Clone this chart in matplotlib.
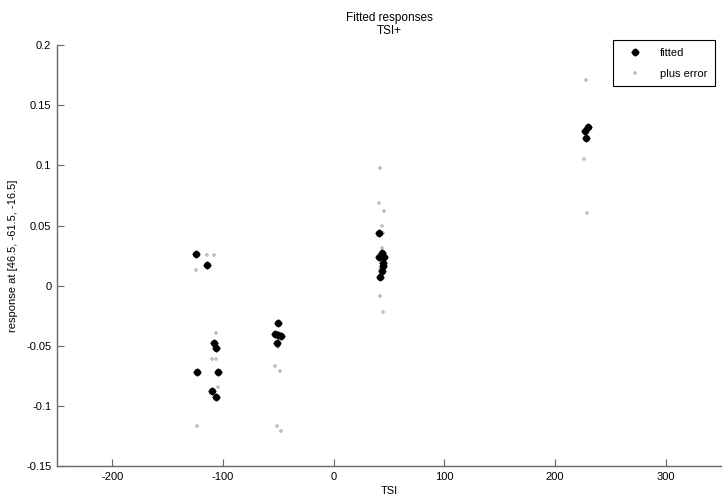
import matplotlib
matplotlib.use('Agg')
import matplotlib.pyplot as plt

plt.rcParams['font.family'] = ['Liberation Sans', 'DejaVu Sans']
plt.rcParams['font.size'] = 8
plt.rcParams['axes.unicode_minus'] = False

# fitted responses (black)
fitted_x = [-124.3, -114.4, -108.1, -106.3, -123.4, -104.5, -110.0, -106.3,
            -50.7, -53.4, -50.2, -47.7, -51.6,
            40.8, 44.1, 41.4, 45.3, 44.4, 44.8, 44.1, 41.7,
            229.5, 227.5, 228.5]
fitted_y = [0.0265, 0.0175, -0.0475, -0.0515, -0.0715, -0.0715, -0.088, -0.093,
            -0.031, -0.040, -0.041, -0.042, -0.048,
            0.044, 0.027, 0.024, 0.024, 0.019, 0.016, 0.0125, 0.007,
            0.132, 0.129, 0.1225]

# fitted plus error (grey)
error_x = [-114.1, -108.1, -124.3, -106.6, -109.9, -106.3, -104.8, -123.4,
           -50.7, -53.4, -48.9, -51.6, -47.7,
           41.7, 40.8, 45.3, 43.8, 44.4, 43.8, 42.0, 41.7, 44.4,
           228.5, 226.0, 229.0]
error_y = [0.0258, 0.0258, 0.0131, -0.039, -0.061, -0.061, -0.084, -0.117,
           -0.051, -0.067, -0.071, -0.117, -0.121,
           0.098, 0.069, 0.062, 0.050, 0.044, 0.031, 0.014, -0.009, -0.022,
           0.171, 0.105, 0.060]

fig = plt.figure(figsize=(7.26, 4.96), dpi=100)
ax = fig.add_axes([0.0785, 0.0605, 0.9145, 0.8485])

dot = dict(linestyle='none', marker='o', markersize=4.2, color='black')
cross = dict(linestyle='none', marker='+', markersize=5.6,
             markeredgewidth=1.0, color='black')
grey = dict(linestyle='none', marker='+', markersize=3.2,
            markeredgewidth=1.3, color='#c2c2c2')

ax.plot(error_x, error_y, zorder=2, **grey)
ax.plot(fitted_x, fitted_y, zorder=3, **dot)
ax.plot(fitted_x, fitted_y, zorder=3, **cross)

# legend handles
h_fit1, = ax.plot([], [], **dot)
h_fit2, = ax.plot([], [], **cross)
h_err, = ax.plot([], [], **grey)
leg = ax.legend([(h_fit1, h_fit2), h_err], ['fitted', 'plus error'],
                loc='upper right', bbox_to_anchor=(0.9995, 1.025),
                fancybox=False, framealpha=1, edgecolor='black',
                borderpad=0.7, handlelength=2.6, labelspacing=0.95,
                handletextpad=0.9)
leg.get_frame().set_linewidth(0.8)

ax.set_xlim(-250, 350)
ax.set_ylim(-0.15, 0.2)
ax.set_xticks([-200, -100, 0, 100, 200, 300])
ax.set_yticks([-0.15, -0.1, -0.05, 0, 0.05, 0.1, 0.15, 0.2])
ax.set_yticklabels(['-0.15', '-0.1', '-0.05', '0', '0.05', '0.1', '0.15', '0.2'])

for side in ['top', 'right']:
    ax.spines[side].set_visible(False)
for side in ['left', 'bottom']:
    ax.spines[side].set_color('#666666')
    ax.spines[side].set_linewidth(1.0)
ax.tick_params(direction='in', length=5, color='#666666', labelsize=8, pad=4)

ax.set_xlabel('TSI', labelpad=3)
ax.set_ylabel('response at [46.5, -61.5, -16.5]', labelpad=6)
ax.set_title('Fitted responses\nTSI+', fontsize=8.5, pad=8, linespacing=1.1)

fig.savefig('out.png', dpi=100)
